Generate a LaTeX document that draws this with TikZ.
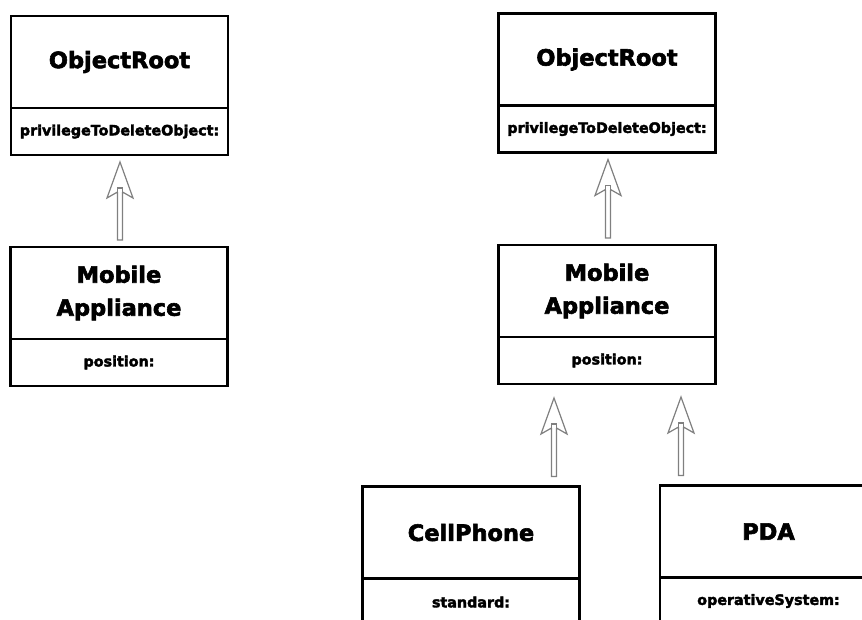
\documentclass[tikz,border=0pt]{standalone}
\usepackage{fontspec}
\newfontfamily\umlfont[FakeBold=2.6]{DejaVu Sans Bold}
\usetikzlibrary{calc}
\definecolor{arrowgray}{RGB}{128,128,128}
\tikzset{
  classtitle/.style={draw=black, line width=2.4pt, outer sep=0pt, inner sep=0pt,
    minimum width=217pt, minimum height=92pt, align=center,
    font=\umlfont\fontsize{22.5}{33}\selectfont},
  classattr/.style={draw=black, line width=2.4pt, outer sep=0pt, inner sep=0pt,
    minimum width=217pt, minimum height=47pt, anchor=north,
    font=\umlfont\fontsize{14.3}{16}\selectfont},
  inhline/.style={draw=arrowgray, line width=1.2pt, fill=white, line join=miter}
}
% #1 child node, #2 parent node, #3 x position, #4 gap below parent, #5 gap above child
\newcommand\inharrow[5]{%
  \draw[inhline] let \p1=(#1.north), \p2=(#2.south) in
    ({#3pt-2.5pt},{\y1+#5pt}) -- ({#3pt-2.5pt},{\y2-#4pt-30pt})
    -- ({#3pt-13pt},{\y2-#4pt-36pt}) -- ({#3pt},{\y2-#4pt})
    -- ({#3pt+13pt},{\y2-#4pt-36pt}) -- ({#3pt+2.5pt},{\y2-#4pt-30pt})
    -- ({#3pt+2.5pt},{\y1+#5pt}) -- cycle;
  \draw[inhline] let \p1=(#1.north), \p2=(#2.south) in
    ({#3pt-2.5pt},{\y2-#4pt-30pt}) -- ({#3pt-2.5pt},{\y2-#4pt-26pt})
    -- ({#3pt+2.5pt},{\y2-#4pt-26pt}) -- ({#3pt+2.5pt},{\y2-#4pt-30pt});
}
\begin{document}
\begin{tikzpicture}[x=1pt,y=-1pt]
\useasboundingbox (0,0) rectangle (862,619);
\clip (0,0) rectangle (862,619);
\fill[white] (0,0) rectangle (862,619);
% left tree
\node[classtitle] (orL) at (119.5,62) {ObjectRoot};
\node[classattr] (orLa) at (orL.south) {privilegeToDeleteObject:};
\node[classtitle] (maL) at (119,293) {Mobile\\Appliance};
\node[classattr] (maLa) at (maL.south) {position:};
\inharrow{maL}{orLa}{120}{7}{7}
% right tree
\node[classtitle] (orR) at (607,59.5) {ObjectRoot};
\node[classattr] (orRa) at (orR.south) {privilegeToDeleteObject:};
\node[classtitle] (maR) at (607,291) {Mobile\\Appliance};
\node[classattr] (maRa) at (maR.south) {position:};
\node[classtitle] (cp) at (471,532.5) {CellPhone};
\node[classattr] (cpa) at (cp.south) {standard:};
\node[classtitle] (pda) at (768.5,531.5) {PDA};
\node[classattr] (pdaa) at (pda.south) {operativeSystem:};
\inharrow{maR}{orRa}{608}{7}{7}
\inharrow{cp}{maRa}{554}{14}{10}
\inharrow{pda}{maRa}{681}{13}{10}
\end{tikzpicture}
\end{document}
